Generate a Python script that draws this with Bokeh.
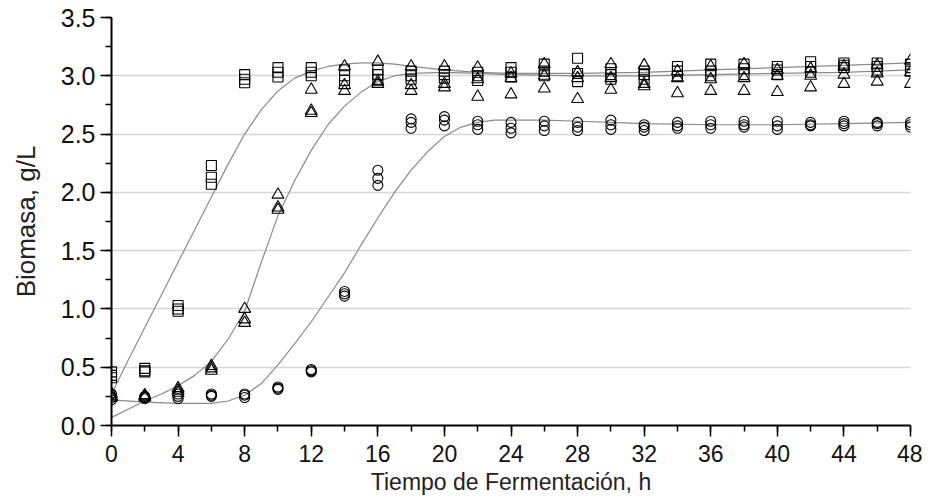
from bokeh.plotting import figure
from bokeh.models import FixedTicker, PrintfTickFormatter, Range1d
from bokeh.embed import file_html
from bokeh.resources import INLINE

# Sampling times (h)
t = [0, 2, 4, 6, 8, 10, 12, 14, 16, 18, 20, 22, 24, 26, 28, 30, 32, 34, 36, 38, 40, 42, 44, 46, 48]

# Squares: three replicates (g/L)
sq1 = [0.46, 0.49, 1.03, 2.23, 3.01, 3.07, 3.07, 3.05, 3.05, 3.04, 3.04, 3.03, 3.07, 3.10, 3.15, 3.06, 3.04, 3.08, 3.10, 3.10, 3.08, 3.12, 3.11, 3.11, 3.10]
sq2 = [0.43, 0.47, 1.00, 2.13, 2.97, 3.03, 3.03, 3.00, 3.01, 3.00, 3.01, 3.00, 3.03, 3.04, 3.02, 3.01, 3.01, 3.04, 3.04, 3.06, 3.05, 3.08, 3.09, 3.08, 3.07]
sq3 = [0.41, 0.46, 0.98, 2.07, 2.94, 2.99, 3.00, 2.96, 2.97, 2.97, 2.98, 2.96, 2.99, 3.00, 2.95, 2.97, 2.97, 3.00, 3.00, 3.01, 3.01, 3.03, 3.07, 3.05, 3.04]

# Triangles: three replicates
tr1 = [0.27, 0.26, 0.32, 0.51, 1.00, 1.98, 2.88, 3.08, 3.12, 3.08, 3.08, 3.07, 3.02, 3.10, 3.03, 3.10, 3.09, 3.04, 3.08, 3.10, 3.05, 3.06, 3.08, 3.09, 3.13]
tr2 = [0.25, 0.25, 0.30, 0.49, 0.91, 1.87, 2.70, 2.92, 2.95, 2.92, 2.93, 2.97, 2.98, 3.00, 2.98, 2.98, 2.93, 2.98, 2.97, 2.98, 3.00, 3.00, 3.01, 3.02, 3.03]
tr3 = [0.24, 0.24, 0.28, 0.47, 0.88, 1.85, 2.68, 2.87, 2.93, 2.87, 2.90, 2.82, 2.84, 2.89, 2.80, 2.88, 2.91, 2.85, 2.87, 2.87, 2.86, 2.90, 2.93, 2.95, 2.93]

# Circles: three replicates
ci1 = [0.27, 0.25, 0.27, 0.27, 0.27, 0.33, 0.48, 1.15, 2.19, 2.63, 2.65, 2.61, 2.60, 2.61, 2.60, 2.62, 2.58, 2.60, 2.61, 2.61, 2.61, 2.60, 2.61, 2.60, 2.60]
ci2 = [0.24, 0.24, 0.25, 0.26, 0.26, 0.32, 0.47, 1.13, 2.12, 2.60, 2.62, 2.58, 2.55, 2.57, 2.56, 2.58, 2.56, 2.57, 2.58, 2.58, 2.57, 2.58, 2.59, 2.59, 2.58]
ci3 = [0.22, 0.23, 0.23, 0.25, 0.24, 0.31, 0.46, 1.11, 2.06, 2.55, 2.57, 2.54, 2.51, 2.53, 2.53, 2.54, 2.53, 2.55, 2.55, 2.56, 2.54, 2.57, 2.57, 2.57, 2.56]

# Fitted curves
cx_sq = [0, 1, 2, 3, 4, 5, 6, 7, 8, 9, 10, 11, 12, 13, 14, 15, 16, 17, 18, 20, 22, 24, 28, 32, 36, 40, 44, 48]
cy_sq = [0.27, 0.56, 0.84, 1.12, 1.40, 1.68, 1.96, 2.24, 2.50, 2.71, 2.87, 2.98, 3.04, 3.08, 3.10, 3.11, 3.11, 3.10, 3.08, 3.05, 3.03, 3.02, 3.02, 3.03, 3.05, 3.07, 3.09, 3.11]

cx_tr = [0, 1, 2, 3, 4, 5, 6, 7, 8, 9, 10, 11, 12, 13, 14, 15, 16, 17, 18, 20, 22, 24, 28, 32, 36, 40, 44, 48]
cy_tr = [0.07, 0.14, 0.21, 0.27, 0.34, 0.43, 0.55, 0.74, 0.98, 1.40, 1.80, 2.10, 2.36, 2.58, 2.74, 2.86, 2.95, 3.00, 3.02, 3.03, 3.02, 3.01, 3.00, 3.00, 3.01, 3.02, 3.03, 3.05]

cx_ci = [0, 2, 4, 6, 7, 8, 9, 10, 11, 12, 13, 14, 15, 16, 17, 18, 19, 20, 21, 22, 23, 24, 26, 28, 30, 32, 36, 40, 44, 48]
cy_ci = [0.22, 0.20, 0.19, 0.19, 0.21, 0.26, 0.36, 0.52, 0.70, 0.89, 1.10, 1.31, 1.55, 1.78, 2.00, 2.19, 2.35, 2.48, 2.56, 2.60, 2.62, 2.62, 2.62, 2.61, 2.60, 2.59, 2.58, 2.58, 2.59, 2.60]

x_ticks = [0, 4, 8, 12, 16, 20, 24, 28, 32, 36, 40, 44, 48]
x_minor = list(range(0, 49, 2))
y_ticks = [0.0, 0.5, 1.0, 1.5, 2.0, 2.5, 3.0, 3.5]
y_minor = [i * 0.25 for i in range(15)]

FONT = "Liberation Sans"

p = figure(width=922, height=501, x_range=Range1d(0, 48), y_range=Range1d(0, 3.5),
           output_backend="svg", toolbar_location=None,
           min_border_left=111, min_border_right=12, min_border_top=17, min_border_bottom=76)
p.outline_line_color = None
p.background_fill_color = "white"
p.border_fill_color = "white"

p.xgrid.visible = False
p.ygrid.grid_line_color = "#d6d6d6"
p.ygrid.grid_line_width = 1.5

for ax in (p.xaxis, p.yaxis):
    ax.axis_line_color = "black"
    ax.axis_line_width = 2
    ax.major_tick_line_color = "black"
    ax.minor_tick_line_color = "black"
    ax.major_tick_line_width = 1.5
    ax.minor_tick_line_width = 1.5
    ax.major_tick_in = 0
    ax.minor_tick_in = 0
    ax.major_label_text_font = FONT
    ax.major_label_text_color = "#111111"
    ax.axis_label_text_font = FONT
    ax.axis_label_text_font_style = "normal"
    ax.axis_label_text_color = "#222222"

p.xaxis.ticker = FixedTicker(ticks=x_ticks, minor_ticks=x_minor)
p.yaxis.ticker = FixedTicker(ticks=y_ticks, minor_ticks=y_minor)
p.yaxis.formatter = PrintfTickFormatter(format="%.1f")

p.xaxis.major_tick_out = 11
p.xaxis.minor_tick_out = 6
p.yaxis.major_tick_out = 11
p.yaxis.minor_tick_out = 6

p.xaxis.major_label_text_font_size = "23px"
p.yaxis.major_label_text_font_size = "25px"
p.xaxis.major_label_standoff = 8
p.yaxis.major_label_standoff = 5
p.xaxis.axis_label = "Tiempo de Fermentación, h"
p.yaxis.axis_label = "Biomasa, g/L"
p.xaxis.axis_label_text_font_size = "23px"
p.yaxis.axis_label_text_font_size = "26px"
p.xaxis.axis_label_standoff = 4
p.yaxis.axis_label_standoff = 17

curve_color = "#8a8a8a"
p.line(cx_sq, cy_sq, line_color=curve_color, line_width=1.2)
p.line(cx_tr, cy_tr, line_color=curve_color, line_width=1.2)
p.line(cx_ci, cy_ci, line_color=curve_color, line_width=1.2)

for ys in (ci1, ci2, ci3):
    p.scatter(t, ys, marker="circle", size=10, line_color="black", line_width=1.1, fill_alpha=0)
for ys in (tr1, tr2, tr3):
    p.scatter(t, ys, marker="triangle", size=12, line_color="black", line_width=1.1, fill_alpha=0)
for ys in (sq1, sq2, sq3):
    p.scatter(t, ys, marker="square", size=10, line_color="black", line_width=1.1, fill_alpha=0)

open("out.html", "w").write(file_html(p, INLINE))
